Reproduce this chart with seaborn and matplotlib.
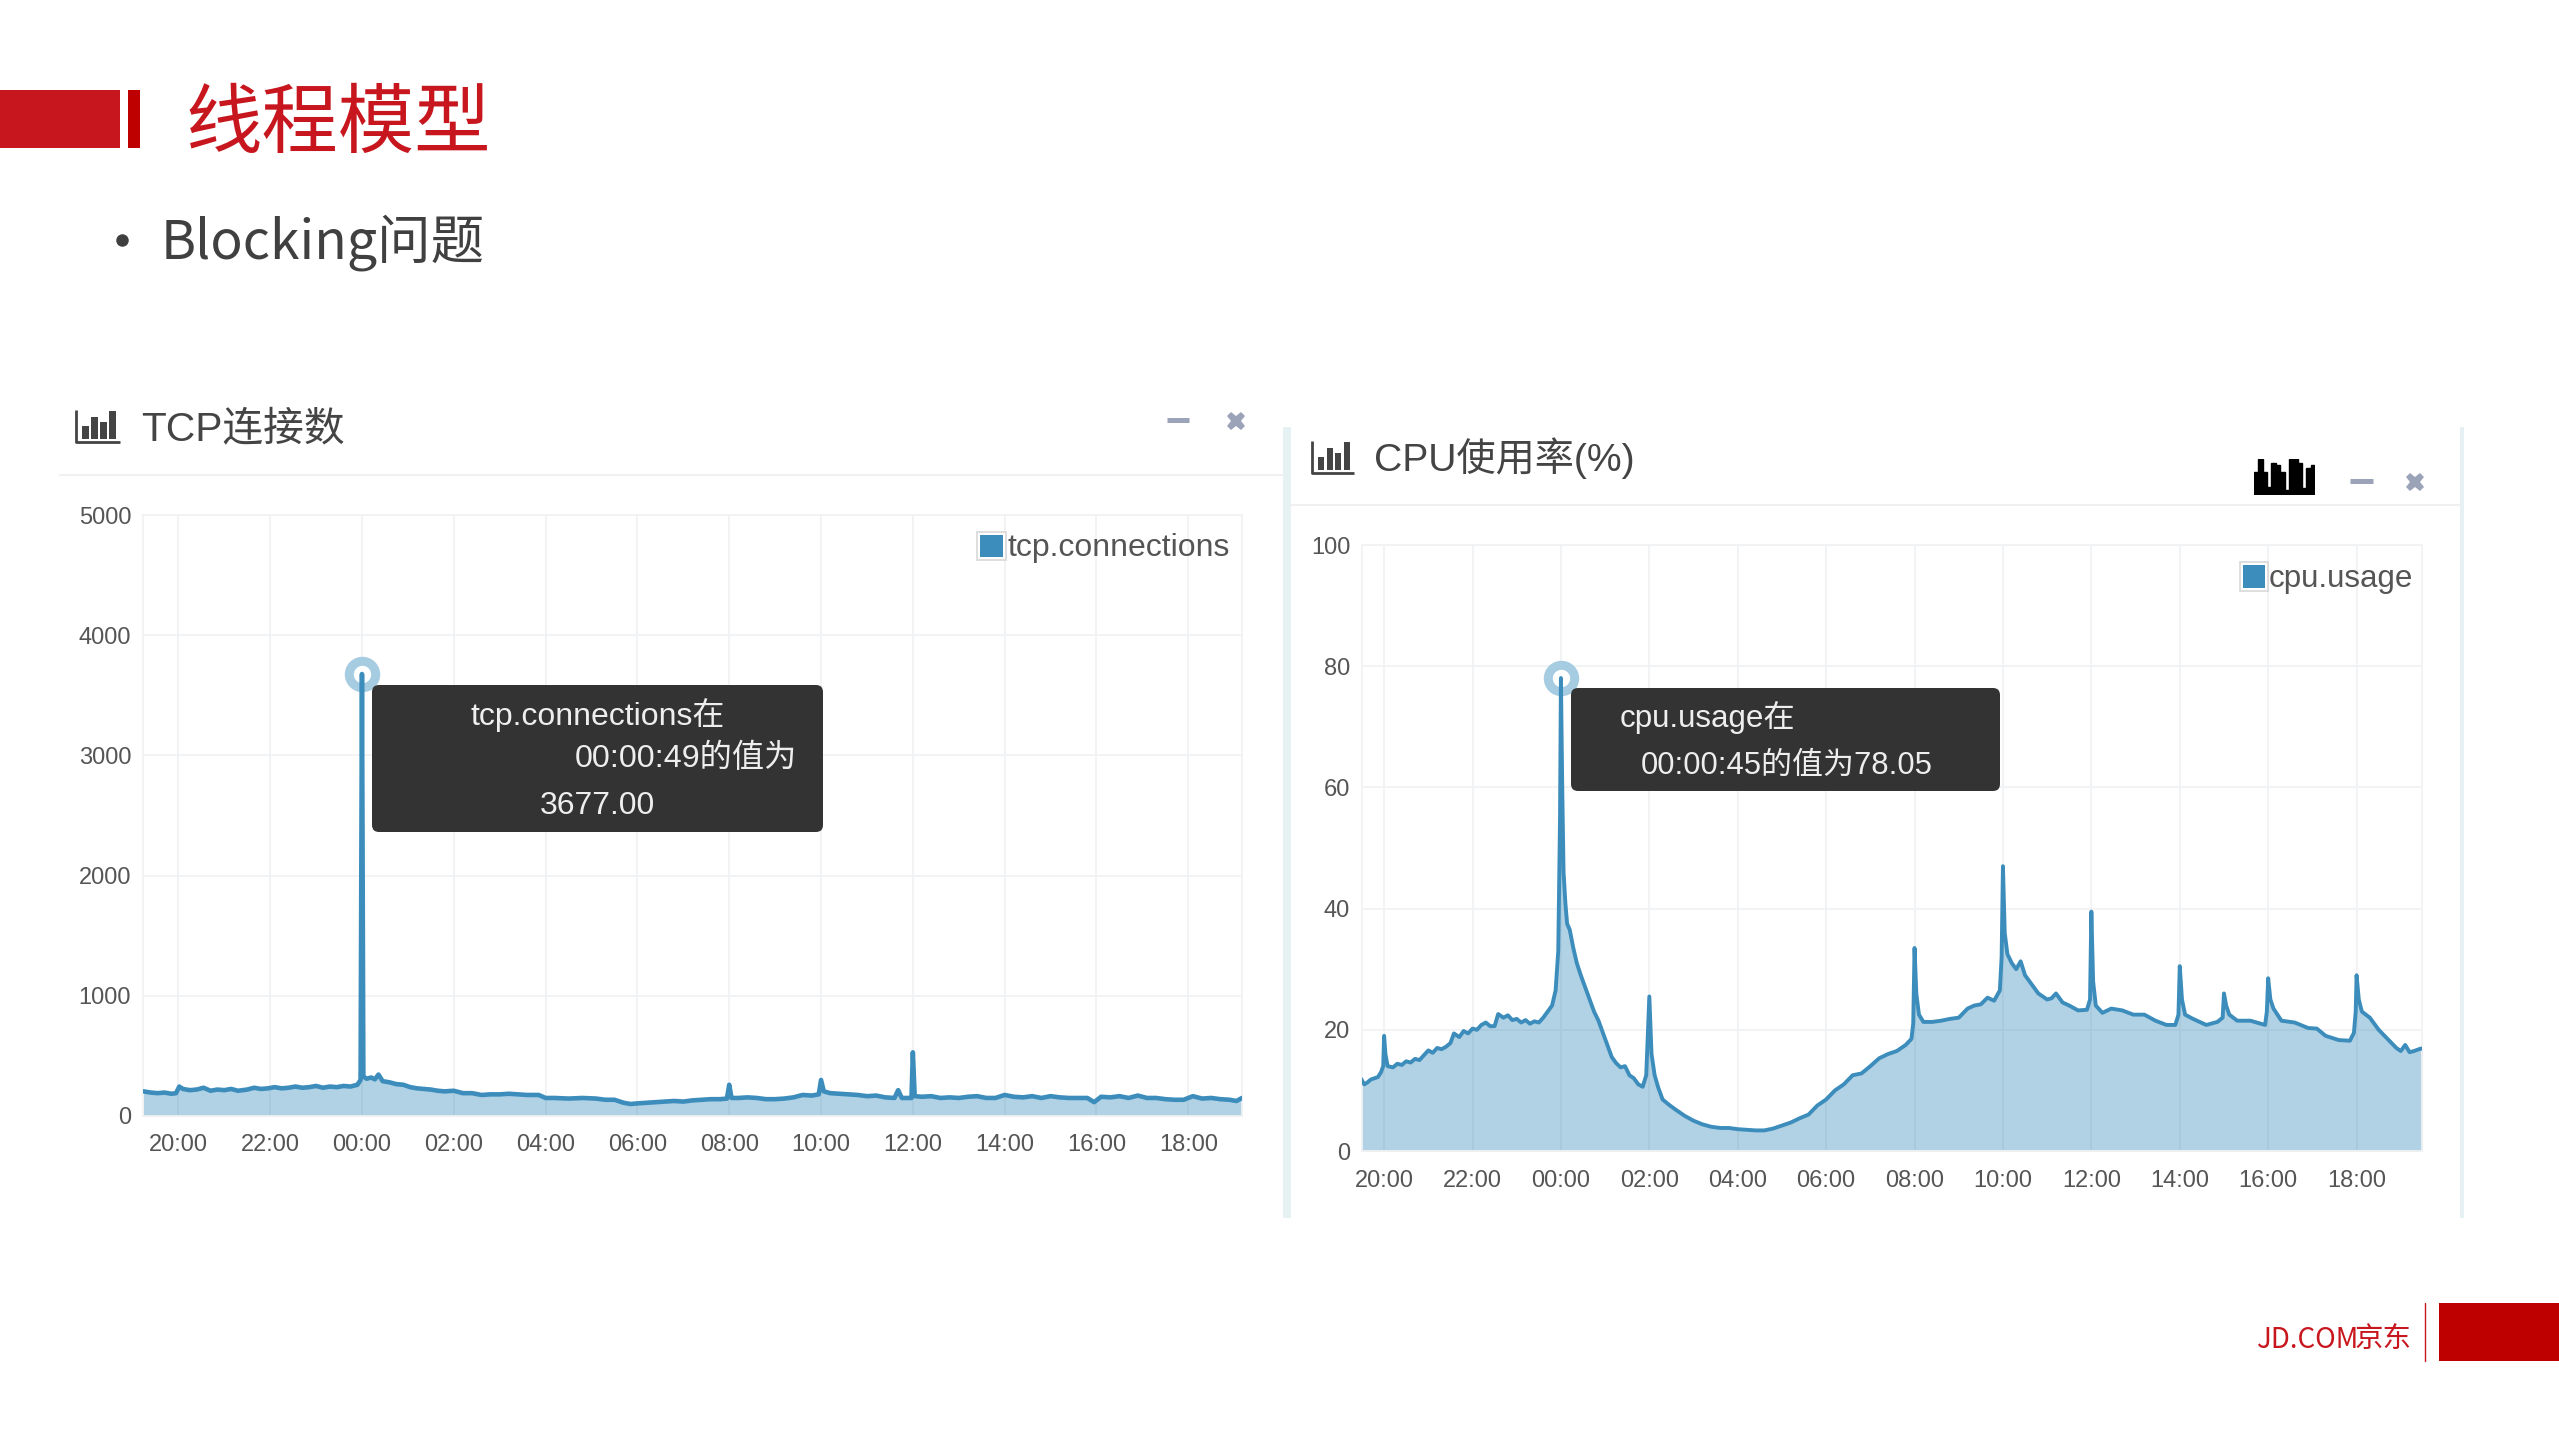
"""
plot.py - Blocking slide with TCP connection and CPU usage monitor panels
"""

import matplotlib
matplotlib.use('Agg')
import matplotlib.pyplot as plt
from matplotlib.patches import FancyBboxPatch, Rectangle
import seaborn as sns

W, H = 2559, 1439

BLUE = '#3c8dbc'
RING = '#a6cce2'
GRID = '#f1f2f3'
TICK = '#555555'
RED = '#c8161e'
DARK_RED = '#be0000'
STRIPE = '#e6f1f3'
TOOL_ICON = '#9aa3b8'

tick_hours = [-4, -2, 0, 2, 4, 6, 8, 10, 12, 14, 16, 18]
tick_labels = ['20:00', '22:00', '00:00', '02:00', '04:00', '06:00',
               '08:00', '10:00', '12:00', '14:00', '16:00', '18:00']

tcp_yticks = [0, 1000, 2000, 3000, 4000, 5000]
cpu_yticks = [0, 20, 40, 60, 80, 100]

# hours relative to midnight
tcp_hours = [
    -4.76, -4.6, -4.45, -4.3, -4.15, -4.05, -3.98, -3.9, -3.75, -3.6,
    -3.45, -3.3, -3.15, -3.0, -2.85, -2.7, -2.5, -2.35, -2.2, -2.05,
    -1.9, -1.75, -1.6, -1.45, -1.3, -1.15, -1.0, -0.85, -0.7, -0.55,
    -0.4, -0.25, -0.1, -0.03, 0.0, 0.03, 0.1, 0.2, 0.28, 0.36,
    0.45, 0.6, 0.75, 0.9, 1.05, 1.2, 1.35, 1.5, 1.65, 1.8,
    2.0, 2.2, 2.4, 2.6, 2.8, 3.0, 3.2, 3.4, 3.6, 3.85,
    4.0, 4.2, 4.5, 4.8, 5.1, 5.3, 5.5, 5.7, 5.85, 6.0,
    6.2, 6.4, 6.6, 6.8, 7.0, 7.2, 7.4, 7.6, 7.8, 7.95,
    8.0, 8.05, 8.2, 8.4, 8.6, 8.8, 9.0, 9.2, 9.4, 9.6,
    9.8, 9.95, 10.0, 10.06, 10.2, 10.4, 10.6, 10.8, 11.0, 11.2,
    11.4, 11.6, 11.68, 11.76, 11.9, 11.97, 12.0, 12.04, 12.2, 12.4,
    12.6, 12.8, 13.0, 13.2, 13.4, 13.6, 13.8, 14.0, 14.2, 14.4,
    14.6, 14.8, 15.0, 15.2, 15.4, 15.6, 15.8, 15.95, 16.1, 16.3,
    16.5, 16.7, 16.9, 17.1, 17.3, 17.5, 17.7, 17.9, 18.1, 18.3,
    18.5, 18.7, 18.9, 19.05, 19.17,
]
tcp_values = [
    205, 195, 190, 195, 185, 190, 245, 225, 215, 220,
    235, 210, 220, 215, 225, 210, 220, 235, 225, 230,
    240, 230, 235, 245, 235, 240, 250, 235, 245, 240,
    250, 245, 260, 300, 3677, 330, 310, 320, 305, 345,
    290, 280, 265, 260, 240, 230, 225, 220, 210, 205,
    210, 190, 190, 175, 180, 180, 185, 180, 175, 175,
    150, 150, 145, 150, 145, 135, 135, 110, 100, 105,
    110, 115, 120, 125, 120, 130, 135, 140, 140, 145,
    260, 150, 150, 155, 150, 140, 140, 145, 155, 175,
    170, 180, 300, 205, 190, 185, 180, 175, 165, 170,
    155, 150, 215, 150, 150, 150, 530, 165, 160, 165,
    150, 155, 150, 160, 165, 150, 150, 175, 160, 155,
    165, 150, 165, 155, 150, 150, 150, 115, 160, 155,
    165, 150, 170, 150, 150, 140, 135, 135, 165, 145,
    150, 140, 135, 125, 150,
]

cpu_hours = [
    -4.52, -4.45, -4.38, -4.3, -4.22, -4.14, -4.07, -4.02, -4.0, -3.97,
    -3.92, -3.8, -3.7, -3.6, -3.5, -3.4, -3.3, -3.2, -3.1, -3.0,
    -2.9, -2.8, -2.7, -2.6, -2.5, -2.42, -2.3, -2.2, -2.1, -2.0,
    -1.9, -1.8, -1.7, -1.6, -1.5, -1.42, -1.3, -1.2, -1.1, -1.0,
    -0.9, -0.8, -0.7, -0.6, -0.5, -0.4, -0.3, -0.2, -0.12, -0.06,
    -0.02, 0.0, 0.03, 0.06, 0.1, 0.14, 0.2, 0.28, 0.36, 0.45,
    0.55, 0.65, 0.75, 0.85, 0.95, 1.05, 1.15, 1.25, 1.35, 1.45,
    1.55, 1.65, 1.75, 1.85, 1.93, 2.0, 2.05, 2.12, 2.2, 2.3,
    2.45, 2.6, 2.8, 3.0, 3.2, 3.4, 3.6, 3.8, 4.0, 4.2,
    4.4, 4.6, 4.8, 5.0, 5.2, 5.4, 5.6, 5.8, 6.0, 6.2,
    6.4, 6.6, 6.8, 7.0, 7.2, 7.4, 7.6, 7.8, 7.93, 7.97,
    8.0, 8.04, 8.1, 8.2, 8.4, 8.6, 8.8, 9.0, 9.2, 9.35,
    9.5, 9.65, 9.8, 9.93, 9.97, 10.0, 10.04, 10.1, 10.2, 10.3,
    10.4, 10.5, 10.65, 10.8, 11.0, 11.1, 11.2, 11.35, 11.5, 11.7,
    11.9, 11.97, 12.0, 12.04, 12.1, 12.25, 12.45, 12.7, 12.95, 13.2,
    13.45, 13.7, 13.9, 13.97, 14.0, 14.05, 14.12, 14.3, 14.6, 14.85,
    14.97, 15.0, 15.05, 15.12, 15.3, 15.6, 15.93, 15.97, 16.0, 16.05,
    16.12, 16.3, 16.6, 16.9, 17.1, 17.3, 17.6, 17.85, 17.94, 17.98,
    18.0, 18.05, 18.12, 18.3, 18.5, 18.7, 18.9, 19.0, 19.1, 19.2,
    19.3, 19.45, 19.57,
]
cpu_values = [
    11.9, 11.0, 11.3, 11.8, 12.0, 12.2, 13.0, 14.0, 19.0, 16.0,
    14.0, 13.8, 14.4, 14.2, 14.8, 14.6, 15.2, 15.0, 15.8, 16.6,
    16.2, 17.0, 16.8, 17.2, 17.8, 19.4, 18.8, 19.8, 19.4, 20.2,
    20.0, 20.8, 21.2, 20.6, 20.6, 22.6, 22.0, 22.4, 21.6, 21.8,
    21.2, 21.6, 21.0, 21.4, 21.2, 22.0, 23.0, 24.0, 26.5, 33.0,
    55.0, 78.05, 60.0, 46.0, 41.0, 37.5, 36.5, 33.5, 31.0, 29.0,
    27.0, 25.0, 23.0, 21.5, 19.5, 17.5, 15.5, 14.5, 13.8, 14.0,
    12.5, 12.0, 11.0, 10.6, 12.5, 25.5, 16.0, 12.5, 10.5, 8.5,
    7.6, 6.8, 5.8, 5.0, 4.4, 4.0, 3.8, 3.8, 3.6, 3.5,
    3.4, 3.4, 3.7, 4.2, 4.7, 5.4, 6.0, 7.5, 8.5, 10.0,
    11.0, 12.5, 12.8, 14.0, 15.3, 16.0, 16.5, 17.5, 18.5, 21.0,
    33.5, 26.0, 22.5, 21.3, 21.3, 21.5, 21.8, 22.0, 23.5, 24.0,
    24.2, 25.3, 24.8, 26.5, 32.0, 47.0, 36.0, 32.5, 31.0, 30.0,
    31.3, 29.0, 27.5, 26.0, 25.0, 25.2, 26.0, 24.5, 24.0, 23.2,
    23.3, 25.0, 39.5, 28.0, 24.0, 22.8, 23.5, 23.2, 22.5, 22.5,
    21.5, 20.8, 20.8, 22.5, 30.5, 25.0, 22.5, 21.8, 20.8, 21.3,
    22.0, 26.0, 24.0, 22.5, 21.5, 21.5, 20.8, 23.0, 28.5, 25.0,
    23.5, 21.5, 21.2, 20.3, 20.2, 19.0, 18.3, 18.2, 19.5, 23.0,
    29.0, 25.0, 23.0, 22.0, 20.0, 18.5, 17.0, 16.5, 17.5, 16.3,
    16.5, 16.9, 16.8,
]

# the small black sparkline above the CPU panel
spark_values = [70, 108, 70, 25, 95, 90, 70, 15, 108, 108, 95, 20, 80, 90]
icon_bars = [0.45, 0.75, 0.6, 0.95]

sns.set_theme(style='whitegrid')
plt.rcParams['font.family'] = ['Liberation Sans', 'Noto Sans CJK SC', 'DejaVu Sans']


def px_axes(fig, x0, y0, x1, y1):
    """Add an axes from pixel edges, measured from the top left."""
    return fig.add_axes([x0 / W, 1 - y1 / H, (x1 - x0) / W, (y1 - y0) / H])


def draw_panel(ax, hours, values, xlim, ylim, yticks, lw, xpad, peak_hour, peak_value):
    """Draw one monitor chart with its line, fill and hover ring."""
    ax.set_facecolor('white')
    ax.fill_between(hours, values, 0, color=BLUE, alpha=0.4, linewidth=0, zorder=2)
    sns.lineplot(x=hours, y=values, ax=ax, color=BLUE, linewidth=lw,
                 errorbar=None, zorder=3)
    ax.plot([peak_hour], [peak_value], 'o', ms=19, mfc='white', mec=RING, mew=6.5,
            clip_on=False, zorder=2.5)
    ax.set_xlim(*xlim)
    ax.set_ylim(*ylim)
    ax.set_xticks(tick_hours)
    ax.set_xticklabels(tick_labels)
    ax.set_yticks(yticks)
    ax.set_xlabel('')
    ax.set_ylabel('')
    ax.grid(True, color=GRID, linewidth=1.3)
    ax.set_axisbelow(True)
    ax.tick_params(axis='x', length=0, pad=xpad, labelsize=17, labelcolor=TICK)
    ax.tick_params(axis='y', length=0, pad=8.5, labelsize=17, labelcolor=TICK)
    for spine in ax.spines.values():
        spine.set_color(GRID)
        spine.set_linewidth(1.3)


def draw_icon(ov, x0, y0, x1, y1):
    """Little bar chart glyph in front of a panel title."""
    ov.plot([x0, x0, x1], [y0, y1, y1], color='#444444', lw=2, solid_capstyle='butt')
    width = (x1 - x0 - 8) / len(icon_bars)
    for i, h in enumerate(icon_bars):
        top = y1 - 3 - h * (y1 - y0 - 3)
        ov.add_patch(Rectangle((x0 + 6 + i * width, top), width * 0.75, y1 - 3 - top,
                               color='#444444', lw=0))


def draw_window_buttons(ov, minus_x0, minus_x1, minus_y, close_x, close_y):
    ov.plot([minus_x0, minus_x1], [minus_y, minus_y], color=TOOL_ICON, lw=3.6,
            solid_capstyle='butt')
    ov.plot([close_x], [close_y], marker='X', ms=13, mfc=TOOL_ICON, mec=TOOL_ICON, mew=0)


def draw_legend(ov, x0, y0, x1, y1, label, fontsize):
    ov.add_patch(Rectangle((x0, y0), x1 - x0, y1 - y0, fc='white', ec='#d8d8d8', lw=1.2))
    ov.add_patch(Rectangle((x0 + 3, y0 + 3), x1 - x0 - 6, y1 - y0 - 6, color=BLUE, lw=0))
    ov.text(x1 + 1, (y0 + y1) / 2 + 2, label, fontsize=fontsize, color=TICK,
            ha='left', va='center')


def draw_tooltip(ov, x0, y0, x1, y1):
    ov.add_patch(FancyBboxPatch((x0, y0), x1 - x0, y1 - y0,
                                boxstyle='round,pad=0,rounding_size=7',
                                fc='#333333', ec='none'))


def main():
    fig = plt.figure(figsize=(W / 100, H / 100), dpi=100, facecolor='white')

    ax_tcp = px_axes(fig, 143, 515, 1242, 1116)
    draw_panel(ax_tcp, tcp_hours, tcp_values, (-4.77, 19.17), (0, 5000), tcp_yticks,
               3.3, 13, 0.0, 3677)
    ax_cpu = px_axes(fig, 1362, 545, 2422, 1151)
    draw_panel(ax_cpu, cpu_hours, cpu_values, (-4.5, 19.48), (0, 100), cpu_yticks,
               2.8, 14, 0.0, 78.05)

    ax_spark = px_axes(fig, 2254, 459, 2315, 495)
    ax_spark.bar(range(len(spark_values)), spark_values, width=1.0, color='black',
                 edgecolor='black', linewidth=1)
    ax_spark.set_xlim(-0.5, len(spark_values) - 0.5)
    ax_spark.set_ylim(0, 108)
    ax_spark.axis('off')

    # overlay in pixel coordinates for the slide furniture
    ov = fig.add_axes([0, 0, 1, 1], zorder=10)
    ov.set_xlim(0, W)
    ov.set_ylim(H, 0)
    ov.axis('off')

    ov.add_patch(Rectangle((0, 90), 120, 58, color=RED, lw=0))
    ov.add_patch(Rectangle((128, 90), 12, 58, color=DARK_RED, lw=0))
    ov.text(185, 125, '线程模型', fontsize=55, color=RED, ha='left', va='center',
            family='Noto Sans CJK SC')
    ov.plot([122], [240], 'o', ms=9, color='#404040', mew=0)
    ov.text(161, 243, 'Blocking问题', fontsize=38.5, color='#404040', ha='left',
            va='center', family='Noto Sans CJK SC')

    # panel chrome
    ov.add_patch(Rectangle((1283, 427), 8, 791, color=STRIPE, lw=0))
    ov.add_patch(Rectangle((2460, 427), 4, 791, color=STRIPE, lw=0))
    ov.plot([60, 1283], [475, 475], color='#f0f0f0', lw=1.5)
    ov.plot([1291, 2460], [505, 505], color='#f0f0f0', lw=1.5)

    draw_icon(ov, 76, 410, 120, 442)
    ov.text(141, 429, 'TCP连接数', fontsize=29.3, color='#444444', ha='left', va='center')
    draw_window_buttons(ov, 1167, 1189, 420, 1236, 421)

    draw_icon(ov, 1312, 441, 1354, 473)
    ov.text(1374, 458, 'CPU使用率(%)', fontsize=28.2, color='#444444', ha='left', va='center')
    draw_window_buttons(ov, 2350, 2373, 481, 2415, 482)

    draw_legend(ov, 977, 532, 1006, 560, 'tcp.connections', 23)
    draw_legend(ov, 2240, 562, 2268, 591, 'cpu.usage', 22.5)

    draw_tooltip(ov, 372, 685, 823, 832)
    ov.text(598, 715, 'tcp.connections在', fontsize=23, color='#eeeeee', ha='center', va='center')
    ov.text(686, 759, '00:00:49的值为', fontsize=23.2, color='#eeeeee', ha='center', va='center')
    ov.text(597, 806, '3677.00', fontsize=23, color='#eeeeee', ha='center', va='center')

    draw_tooltip(ov, 1571, 688, 2000, 791)
    ov.text(1620, 718, 'cpu.usage在', fontsize=22.5, color='#eeeeee', ha='left', va='center')
    ov.text(1641, 766, '00:00:45的值为78.05', fontsize=22.3, color='#eeeeee', ha='left', va='center')

    # footer logo
    ov.text(2256, 1340, 'JD.COM', fontsize=20, color=RED, ha='left', va='center',
            family='Noto Sans CJK SC')
    ov.text(2354, 1340, '京东', fontsize=20.5, color=RED, ha='left', va='center',
            family='Noto Sans CJK SC')
    ov.plot([2425, 2425], [1303, 1361], color=RED, lw=1)
    ov.add_patch(Rectangle((2439, 1303), 120, 58, color=DARK_RED, lw=0))

    fig.savefig('out.png', dpi=100)
    plt.close(fig)


if __name__ == '__main__':
    main()
